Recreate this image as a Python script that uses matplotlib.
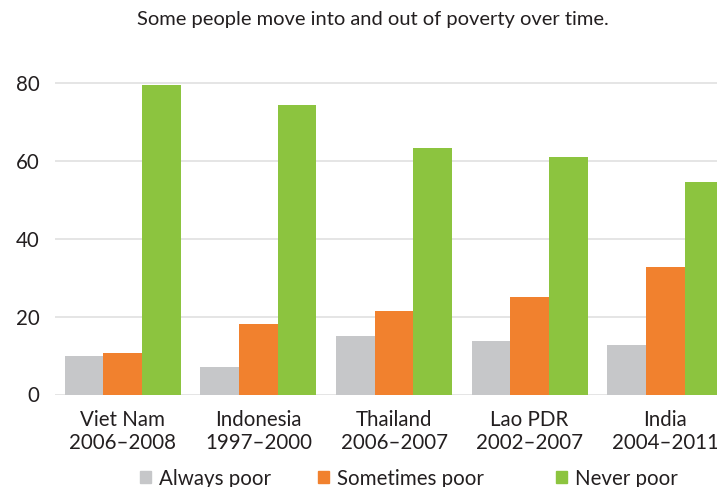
import matplotlib.pyplot as plt
import matplotlib.patches as mpatches
import numpy as np

plt.rcParams["font.family"] = ["Lato", "DejaVu Sans"]

COUNTRIES = ["Viet Nam\n2006–2008", "Indonesia\n1997–2000", "Thailand\n2006–2007",
             "Lao PDR\n2002–2007", "India\n2004–2011"]
SERIES = ["Always poor", "Sometimes poor", "Never poor"]
ALWAYS = [9.8, 7.0, 15.1, 13.6, 12.6]
SOMETIMES = [10.6, 18.2, 21.5, 25.0, 32.6]
NEVER = [79.4, 74.3, 63.2, 60.9, 54.4]
COLORS = ["#c6c7c9", "#f1812e", "#8cc43f"]
TEXT = "#231f20"

W, H = 717, 487
fig = plt.figure(figsize=(W / 100, H / 100), dpi=100)

# axes run past the right edge of the figure on purpose
y0_px, y80_px = 394.5, 82.7
ppu = (y0_px - y80_px) / 80
ymax = 82
top_px = y0_px - ymax * ppu
ax = fig.add_axes([55 / W, 1 - y0_px / H, 678 / W, (y0_px - top_px) / H])

x = np.arange(len(COUNTRIES))
bw = 0.285
for i, (vals, col) in enumerate(zip([ALWAYS, SOMETIMES, NEVER], COLORS)):
    ax.bar(x + (i - 1) * bw, vals, bw, color=col, linewidth=0, zorder=2)

ax.set_xlim(-0.5, 4.5)
ax.set_ylim(0, ymax)
ax.set_yticks([0, 20, 40, 60, 80])
ax.yaxis.grid(True, color="#e3e3e3", linewidth=1.3, zorder=0)
ax.set_axisbelow(True)
for s in ax.spines.values():
    s.set_visible(False)
ax.tick_params(length=0)
ax.tick_params(axis="y", labelsize=14.8, labelcolor=TEXT, pad=11)
ax.set_xticks(x)
ax.set_xticklabels(COUNTRIES, fontsize=14.8, color=TEXT, linespacing=1.22)
ax.tick_params(axis="x", pad=11)

fig.text(373 / W, 1 - 20 / H, "Some people move into and out of poverty over time.",
         ha="center", va="center", fontsize=14.5, color=TEXT)

# legend along the bottom edge
for sx, label, col in zip([140, 318, 556], SERIES, COLORS):
    fig.patches.append(mpatches.Rectangle((sx / W, 1 - 483 / H), 11 / W, 12 / H,
                                          transform=fig.transFigure, color=col))
    fig.text((sx + 19) / W, 1 - 479 / H, label, ha="left", va="center",
             fontsize=14.8, color=TEXT)

fig.savefig("out.png", dpi=100)
